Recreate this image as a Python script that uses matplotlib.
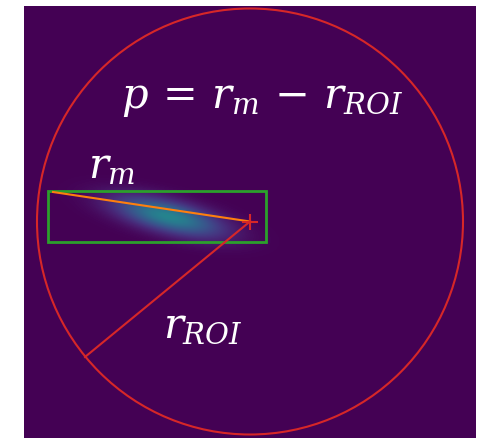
import numpy as np
import matplotlib
matplotlib.use("Agg")
import matplotlib.pyplot as plt
from matplotlib.patches import Circle, Rectangle

# image size (pixels of the detector frame)
img_w, img_h = 452, 432

# region of interest circle
roi_center = (226, 215.5)
roi_radius = 213

# measured spot: bounding box and gaussian blob parameters
box_x0, box_y0, box_x1, box_y1 = 24, 185, 242, 236
blob_center = (144, 210)
blob_sigma_major = 37
blob_sigma_minor = 10.5
blob_angle_deg = 14
blob_peak = 0.45

# end points of the two radius lines
rm_start = (29, 186)
roi_edge = (61, 351)

labels = {
    "eq": r"$p\,=\,r_m\,-\,r_{ROI}$",
    "rm": r"$r_m$",
    "rroi": r"$r_{ROI}$",
}

yy, xx = np.mgrid[0:img_h, 0:img_w]
a = np.deg2rad(blob_angle_deg)
dx = xx - blob_center[0]
dy = yy - blob_center[1]
u = dx * np.cos(a) + dy * np.sin(a)
v = -dx * np.sin(a) + dy * np.cos(a)
frame = blob_peak * np.exp(-0.5 * ((u / blob_sigma_major) ** 2 + (v / blob_sigma_minor) ** 2))

plt.rcParams["mathtext.fontset"] = "dejavuserif"

fig = plt.figure(figsize=(4.8, 4.38), dpi=100)
ax = fig.add_axes([24 / 480, 0, img_w / 480, img_h / 438])
ax.imshow(frame, cmap="viridis", vmin=0, vmax=1, origin="upper",
          extent=(0, img_w, img_h, 0), interpolation="bilinear")

ax.add_patch(Circle(roi_center, roi_radius, fill=False, color="#d62728", lw=1.5))
ax.add_patch(Rectangle((box_x0, box_y0), box_x1 - box_x0, box_y1 - box_y0,
                       fill=False, color="#2ca02c", lw=2))
ax.plot([rm_start[0], roi_center[0]], [rm_start[1], roi_center[1]],
        color="#ff7f0e", lw=1.5)
ax.plot([roi_center[0], roi_edge[0]], [roi_center[1], roi_edge[1]],
        color="#d62728", lw=1.5)
ax.plot(roi_center[0], roi_center[1], "+", color="#d62728", ms=12, mew=1.5)

ax.text(238, 92, labels["eq"], color="white", fontsize=30, ha="center", va="center")
ax.text(88, 160, labels["rm"], color="white", fontsize=30, ha="center", va="center")
ax.text(179, 319, labels["rroi"], color="white", fontsize=30, ha="center", va="center")

ax.set_xlim(0, img_w)
ax.set_ylim(img_h, 0)
ax.axis("off")

fig.savefig("out.png", dpi=100)
